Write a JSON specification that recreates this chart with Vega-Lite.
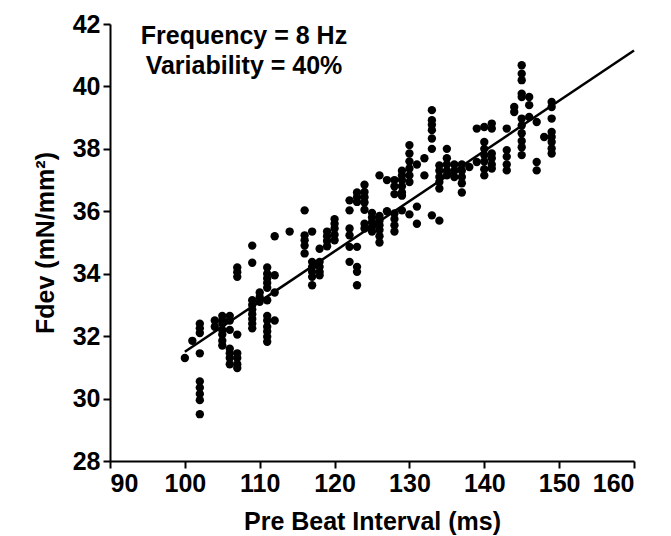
{
  "$schema": "https://vega.github.io/schema/vega-lite/v6.json",
  "width": 524,
  "height": 437,
  "autosize": {"type": "none"},
  "padding": {"left": 110, "top": 24, "right": 37, "bottom": 75},
  "background": "white",
  "config": {
    "view": {"stroke": null},
    "font": "Liberation Sans, Arial, sans-serif",
    "axis": {
      "grid": false,
      "domainColor": "black",
      "domainWidth": 2,
      "tickColor": "black",
      "tickWidth": 2,
      "tickSize": 7,
      "labelFont": "Liberation Sans, Arial, sans-serif",
      "labelFontWeight": "bold",
      "labelFontSize": 25,
      "labelColor": "black",
      "labelPadding": 3,
      "titleFont": "Liberation Sans, Arial, sans-serif",
      "titleFontWeight": "bold",
      "titleFontSize": 25,
      "titleColor": "black"
    }
  },
  "datasets": {
    "points": [
      {"interval": 100, "fdev": 31.3},
      {"interval": 101, "fdev": 31.85},
      {"interval": 102, "fdev": 32.4}, {"interval": 102, "fdev": 32.25}, {"interval": 102, "fdev": 32.1}, {"interval": 102, "fdev": 31.45}, {"interval": 102, "fdev": 30.55}, {"interval": 102, "fdev": 30.35}, {"interval": 102, "fdev": 30.15}, {"interval": 102, "fdev": 29.95}, {"interval": 102, "fdev": 29.5},
      {"interval": 104, "fdev": 32.5}, {"interval": 104, "fdev": 32.3},
      {"interval": 105, "fdev": 32.65}, {"interval": 105, "fdev": 32.5}, {"interval": 105, "fdev": 32.4}, {"interval": 105, "fdev": 32.2}, {"interval": 105, "fdev": 32.05}, {"interval": 105, "fdev": 31.85}, {"interval": 105, "fdev": 31.7},
      {"interval": 106, "fdev": 32.65}, {"interval": 106, "fdev": 32.5}, {"interval": 106, "fdev": 32.2}, {"interval": 106, "fdev": 31.6}, {"interval": 106, "fdev": 31.45}, {"interval": 106, "fdev": 31.3}, {"interval": 106, "fdev": 31.1},
      {"interval": 107, "fdev": 34.2}, {"interval": 107, "fdev": 34.05}, {"interval": 107, "fdev": 33.9}, {"interval": 107, "fdev": 32.05}, {"interval": 107, "fdev": 31.45}, {"interval": 107, "fdev": 31.3}, {"interval": 107, "fdev": 31.1}, {"interval": 107, "fdev": 30.98},
      {"interval": 109, "fdev": 34.9}, {"interval": 109, "fdev": 34.35}, {"interval": 109, "fdev": 33.15}, {"interval": 109, "fdev": 33.0}, {"interval": 109, "fdev": 32.85}, {"interval": 109, "fdev": 32.7}, {"interval": 109, "fdev": 32.55}, {"interval": 109, "fdev": 32.4}, {"interval": 109, "fdev": 32.25},
      {"interval": 110, "fdev": 33.25}, {"interval": 110, "fdev": 33.4}, {"interval": 110, "fdev": 33.1},
      {"interval": 111, "fdev": 34.2}, {"interval": 111, "fdev": 34.0}, {"interval": 111, "fdev": 33.85}, {"interval": 111, "fdev": 33.7}, {"interval": 111, "fdev": 33.55}, {"interval": 111, "fdev": 33.15}, {"interval": 111, "fdev": 32.65}, {"interval": 111, "fdev": 32.5}, {"interval": 111, "fdev": 32.3}, {"interval": 111, "fdev": 32.15}, {"interval": 111, "fdev": 31.98}, {"interval": 111, "fdev": 31.82},
      {"interval": 112, "fdev": 35.2}, {"interval": 112, "fdev": 33.95}, {"interval": 112, "fdev": 33.4}, {"interval": 112, "fdev": 32.5},
      {"interval": 114, "fdev": 35.35},
      {"interval": 116, "fdev": 36.03}, {"interval": 116, "fdev": 35.23}, {"interval": 116, "fdev": 35.07}, {"interval": 116, "fdev": 34.9}, {"interval": 116, "fdev": 34.65},
      {"interval": 117, "fdev": 35.35}, {"interval": 117, "fdev": 34.38}, {"interval": 117, "fdev": 34.22}, {"interval": 117, "fdev": 34.06}, {"interval": 117, "fdev": 33.9}, {"interval": 117, "fdev": 33.63},
      {"interval": 118, "fdev": 34.8}, {"interval": 118, "fdev": 34.38}, {"interval": 118, "fdev": 34.22}, {"interval": 118, "fdev": 34.06}, {"interval": 118, "fdev": 33.95},
      {"interval": 119, "fdev": 35.35}, {"interval": 119, "fdev": 35.2}, {"interval": 119, "fdev": 35.05}, {"interval": 119, "fdev": 34.88},
      {"interval": 120, "fdev": 35.75}, {"interval": 120, "fdev": 35.6}, {"interval": 120, "fdev": 35.45}, {"interval": 120, "fdev": 35.25}, {"interval": 120, "fdev": 35.07},
      {"interval": 122, "fdev": 36.35}, {"interval": 122, "fdev": 36.03}, {"interval": 122, "fdev": 35.45}, {"interval": 122, "fdev": 35.23}, {"interval": 122, "fdev": 34.86}, {"interval": 122, "fdev": 34.38},
      {"interval": 123, "fdev": 36.6}, {"interval": 123, "fdev": 36.45}, {"interval": 123, "fdev": 36.3}, {"interval": 123, "fdev": 34.86}, {"interval": 123, "fdev": 34.22}, {"interval": 123, "fdev": 34.06}, {"interval": 123, "fdev": 33.63},
      {"interval": 124, "fdev": 36.85}, {"interval": 124, "fdev": 36.62}, {"interval": 124, "fdev": 36.45}, {"interval": 124, "fdev": 36.28}, {"interval": 124, "fdev": 36.05}, {"interval": 124, "fdev": 35.6}, {"interval": 124, "fdev": 35.45},
      {"interval": 125, "fdev": 35.95}, {"interval": 125, "fdev": 35.8}, {"interval": 125, "fdev": 35.65}, {"interval": 125, "fdev": 35.5}, {"interval": 125, "fdev": 35.35},
      {"interval": 126, "fdev": 37.15}, {"interval": 126, "fdev": 35.85}, {"interval": 126, "fdev": 35.7}, {"interval": 126, "fdev": 35.55}, {"interval": 126, "fdev": 35.4}, {"interval": 126, "fdev": 35.2}, {"interval": 126, "fdev": 35.0},
      {"interval": 127, "fdev": 37.0}, {"interval": 127, "fdev": 36.0},
      {"interval": 128, "fdev": 37.0}, {"interval": 128, "fdev": 36.8}, {"interval": 128, "fdev": 36.55}, {"interval": 128, "fdev": 35.93}, {"interval": 128, "fdev": 35.75}, {"interval": 128, "fdev": 35.55}, {"interval": 128, "fdev": 35.35},
      {"interval": 129, "fdev": 37.3}, {"interval": 129, "fdev": 37.15}, {"interval": 129, "fdev": 37.0}, {"interval": 129, "fdev": 36.8}, {"interval": 129, "fdev": 36.6}, {"interval": 129, "fdev": 36.5}, {"interval": 129, "fdev": 36.03},
      {"interval": 130, "fdev": 38.12}, {"interval": 130, "fdev": 37.85}, {"interval": 130, "fdev": 37.6}, {"interval": 130, "fdev": 37.37}, {"interval": 130, "fdev": 37.15}, {"interval": 130, "fdev": 36.94}, {"interval": 130, "fdev": 35.9},
      {"interval": 131, "fdev": 37.5}, {"interval": 131, "fdev": 36.15}, {"interval": 131, "fdev": 35.6},
      {"interval": 132, "fdev": 37.7}, {"interval": 132, "fdev": 37.15},
      {"interval": 133, "fdev": 39.24}, {"interval": 133, "fdev": 38.92}, {"interval": 133, "fdev": 38.77}, {"interval": 133, "fdev": 38.6}, {"interval": 133, "fdev": 38.33}, {"interval": 133, "fdev": 38.0}, {"interval": 133, "fdev": 35.87},
      {"interval": 134, "fdev": 37.47}, {"interval": 134, "fdev": 37.3}, {"interval": 134, "fdev": 37.1}, {"interval": 134, "fdev": 36.94}, {"interval": 134, "fdev": 36.73}, {"interval": 134, "fdev": 35.7},
      {"interval": 135, "fdev": 38.0}, {"interval": 135, "fdev": 37.7}, {"interval": 135, "fdev": 37.5}, {"interval": 135, "fdev": 37.3}, {"interval": 135, "fdev": 37.15},
      {"interval": 136, "fdev": 37.5}, {"interval": 136, "fdev": 37.3}, {"interval": 136, "fdev": 37.1},
      {"interval": 137, "fdev": 37.5}, {"interval": 137, "fdev": 37.3}, {"interval": 137, "fdev": 37.1}, {"interval": 137, "fdev": 36.9}, {"interval": 137, "fdev": 36.6},
      {"interval": 138, "fdev": 37.42},
      {"interval": 139, "fdev": 38.65}, {"interval": 139, "fdev": 37.58},
      {"interval": 140, "fdev": 38.7}, {"interval": 140, "fdev": 38.22}, {"interval": 140, "fdev": 38.0}, {"interval": 140, "fdev": 37.8}, {"interval": 140, "fdev": 37.6}, {"interval": 140, "fdev": 37.35}, {"interval": 140, "fdev": 37.15},
      {"interval": 141, "fdev": 38.81}, {"interval": 141, "fdev": 38.65}, {"interval": 141, "fdev": 37.85}, {"interval": 141, "fdev": 37.7}, {"interval": 141, "fdev": 37.5}, {"interval": 141, "fdev": 37.37},
      {"interval": 143, "fdev": 38.65}, {"interval": 143, "fdev": 37.96}, {"interval": 143, "fdev": 37.75}, {"interval": 143, "fdev": 37.5}, {"interval": 143, "fdev": 37.31},
      {"interval": 144, "fdev": 39.34}, {"interval": 144, "fdev": 39.18},
      {"interval": 145, "fdev": 40.68}, {"interval": 145, "fdev": 40.41}, {"interval": 145, "fdev": 40.2}, {"interval": 145, "fdev": 39.77}, {"interval": 145, "fdev": 39.66}, {"interval": 145, "fdev": 38.97}, {"interval": 145, "fdev": 38.75}, {"interval": 145, "fdev": 38.5}, {"interval": 145, "fdev": 38.25}, {"interval": 145, "fdev": 38.05}, {"interval": 145, "fdev": 37.8},
      {"interval": 146, "fdev": 39.66}, {"interval": 146, "fdev": 39.4}, {"interval": 146, "fdev": 39.02},
      {"interval": 147, "fdev": 38.86}, {"interval": 147, "fdev": 37.58}, {"interval": 147, "fdev": 37.31},
      {"interval": 148, "fdev": 38.38},
      {"interval": 149, "fdev": 39.5}, {"interval": 149, "fdev": 39.34}, {"interval": 149, "fdev": 38.97}, {"interval": 149, "fdev": 38.54}, {"interval": 149, "fdev": 38.38}, {"interval": 149, "fdev": 38.22}, {"interval": 149, "fdev": 38.01}, {"interval": 149, "fdev": 37.85}
    ],
    "fit": [
      {"interval": 100, "fdev": 31.5},
      {"interval": 160, "fdev": 41.15}
    ],
    "notes": [
      {"interval": 107.9, "fdev": 41.37, "label": "Frequency = 8 Hz"},
      {"interval": 107.9, "fdev": 40.41, "label": "Variability = 40%"}
    ]
  },
  "layer": [
    {
      "data": {"name": "points"},
      "mark": {"type": "circle", "color": "black", "opacity": 1, "size": 70},
      "encoding": {
        "x": {
          "field": "interval", "type": "quantitative",
          "scale": {"domain": [90, 160], "nice": false, "zero": false},
          "axis": {"values": [90, 100, 110, 120, 130, 140, 150, 160], "title": "Pre Beat Interval (ms)", "titlePadding": 13}
        },
        "y": {
          "field": "fdev", "type": "quantitative",
          "scale": {"domain": [28, 42], "nice": false, "zero": false},
          "axis": {"values": [28, 30, 32, 34, 36, 38, 40, 42], "title": "Fdev (mN/mm²)", "titlePadding": 14}
        }
      }
    },
    {
      "data": {"name": "fit"},
      "mark": {"type": "line", "color": "black", "strokeWidth": 2.5},
      "encoding": {
        "x": {"field": "interval", "type": "quantitative"},
        "y": {"field": "fdev", "type": "quantitative"}
      }
    },
    {
      "data": {"name": "notes"},
      "mark": {"type": "text", "align": "center", "baseline": "alphabetic", "fontSize": 25, "fontWeight": "bold", "color": "black", "font": "Liberation Sans, Arial, sans-serif"},
      "encoding": {
        "x": {"field": "interval", "type": "quantitative"},
        "y": {"field": "fdev", "type": "quantitative"},
        "text": {"field": "label"}
      }
    }
  ]
}
